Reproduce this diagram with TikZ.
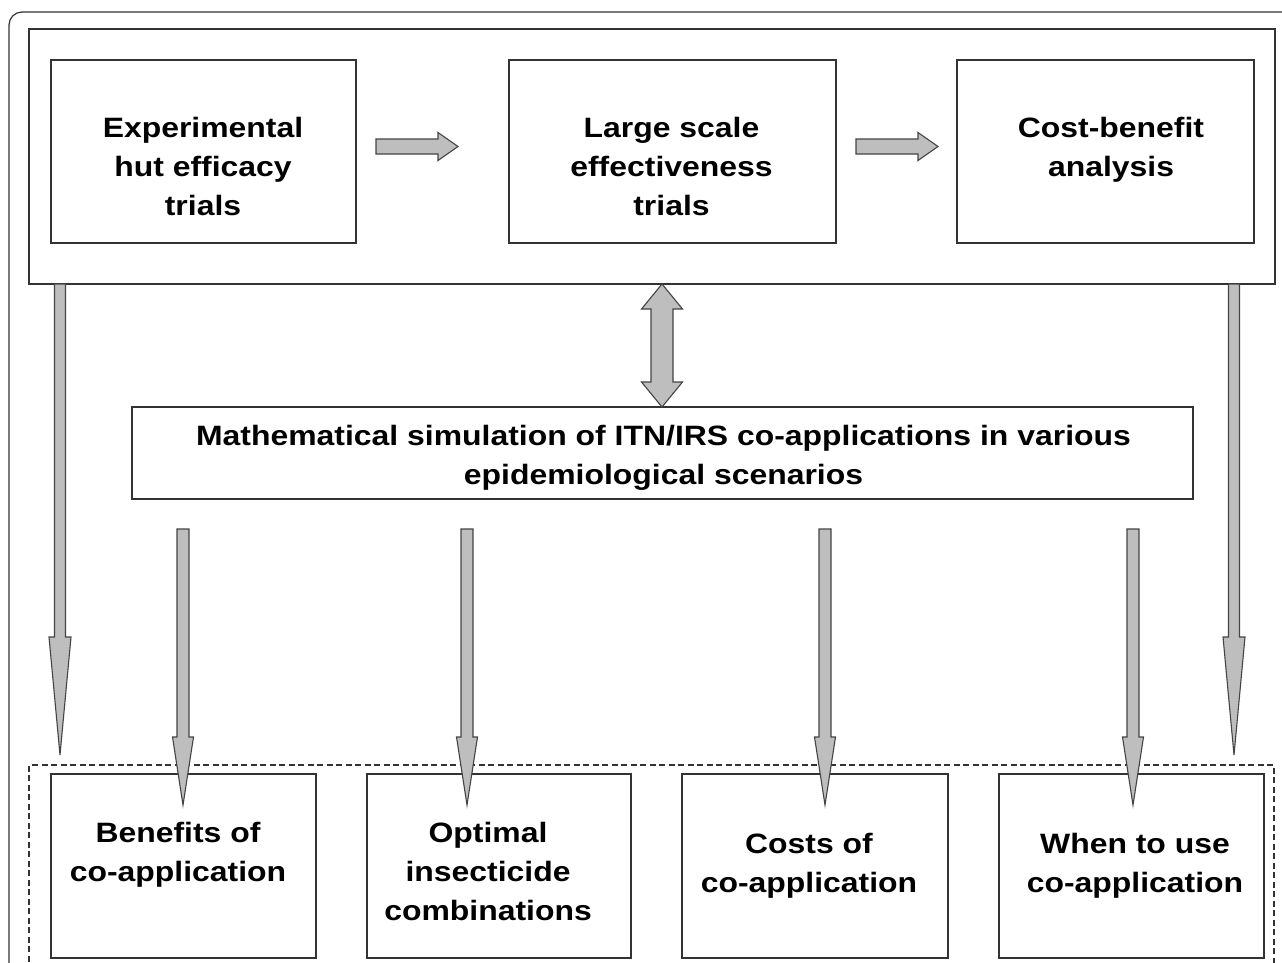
\documentclass[tikz,border=0pt]{standalone}
\usepackage{fontspec}
\setmainfont{Liberation Sans}[FakeStretch=1.14]
\usetikzlibrary{calc}
\definecolor{boxc}{HTML}{333333}
\definecolor{arrfill}{HTML}{BEBEBE}
\definecolor{arrline}{HTML}{444444}
\newcommand\fatdown[5]{%
  \draw[fatarrow] let \p1=(#1), \p2=(#2) in
   (\x1-#3pt,\y1) -- (\x1-#3pt,\y2+#5pt) -- (\x1-#4pt,\y2+#5pt) -- (\x2,\y2)
   -- (\x1+#4pt,\y2+#5pt) -- (\x1+#3pt,\y2+#5pt) -- (\x1+#3pt,\y1) -- cycle;}
\newcommand\fatright[5]{%
  \draw[fatarrow] let \p1=(#1), \p2=(#2) in
   (\x1,\y1-#3pt) -- (\x2-#5pt,\y1-#3pt) -- (\x2-#5pt,\y1-#4pt) -- (\x2,\y2)
   -- (\x2-#5pt,\y1+#4pt) -- (\x2-#5pt,\y1+#3pt) -- (\x1,\y1+#3pt) -- cycle;}
\newcommand\fatboth[5]{%
  \draw[fatarrow] let \p1=(#1), \p2=(#2) in
   (\x1,\y1) -- (\x1-#4pt,\y1-#5pt) -- (\x1-#3pt,\y1-#5pt) -- (\x1-#3pt,\y2+#5pt)
   -- (\x1-#4pt,\y2+#5pt) -- (\x2,\y2) -- (\x1+#4pt,\y2+#5pt) -- (\x1+#3pt,\y2+#5pt)
   -- (\x1+#3pt,\y1-#5pt) -- (\x1+#4pt,\y1-#5pt) -- cycle;}
\begin{document}
\begin{tikzpicture}[x=1pt,y=-1pt,
  box/.style={draw=boxc, line width=1.3pt, anchor=north west, inner sep=0pt, outer sep=0pt},
  txt/.style={font=\bfseries\fontsize{28}{39}\selectfont, align=center, inner sep=0pt, anchor=north, text=black},
  fatarrow/.style={fill=arrfill, draw=arrline, line width=1.1pt, line join=miter},
  frame/.style={draw=boxc, line width=1.2pt}]
\useasboundingbox (0,0) rectangle (1282,962);
\clip (0,0) rectangle (1282,962);
\fill[white] (0,0) rectangle (1282,962);
% outer frame
\draw[frame, rounded corners=13pt] (9,990) -- (9,12) -- (1300,12);
% top group
\node[box, minimum width=1246pt, minimum height=255pt] (top) at (29,29) {};
\node[box, minimum width=305pt, minimum height=183pt] (t1) at (51,60) {};
\node[box, minimum width=327pt, minimum height=183pt] (t2) at (509,60) {};
\node[box, minimum width=297pt, minimum height=183pt] (t3) at (957,60) {};
\node[txt] (t1txt) at (203,117) {Experimental\\hut efficacy\\trials};
\node[txt] (t2txt) at (671.5,117) {Large scale\\effectiveness\\trials};
\node[txt] (t3txt) at (1111,117) {Cost-benefit\\analysis};
% middle
\node[box, minimum width=1061pt, minimum height=92pt] (mid) at (132,407) {};
\node[txt] (midtxt) at (663.5,425) {Mathematical simulation of ITN/IRS co-applications in various\\epidemiological scenarios};
% bottom group
\draw[draw=boxc, line width=1.1pt, dash pattern=on 6pt off 3.5pt] (29,990) -- (29,765) -- (1274,765) -- (1274,990);
\node[box, minimum width=265pt, minimum height=184pt] (b1) at (51,774) {};
\node[box, minimum width=264pt, minimum height=184pt] (b2) at (367,774) {};
\node[box, minimum width=266pt, minimum height=184pt] (b3) at (682,774) {};
\node[box, minimum width=265pt, minimum height=184pt] (b4) at (999,774) {};
\node[txt] (b1txt) at (178,822) {Benefits of\\co-application};
\node[txt] (b2txt) at (488,822) {Optimal\\insecticide\\combinations};
\node[txt] (b3txt) at (809,833) {Costs of\\co-application};
\node[txt] (b4txt) at (1135,833) {When to use\\co-application};
% arrow coordinates
\coordinate (h1s) at (376,146.5); \coordinate (h1t) at (458,146.5);
\coordinate (h2s) at (856,146.5); \coordinate (h2t) at (938,146.5);
\coordinate (dbl) at (662,0);
\coordinate (l1t) at (60,755);
\coordinate (l2t) at (1234,755);
\coordinate (s1s) at (183,529); \coordinate (s1t) at (183,805);
\coordinate (s2s) at (467,529); \coordinate (s2t) at (467,805);
\coordinate (s3s) at (825,529); \coordinate (s3t) at (825,805);
\coordinate (s4s) at (1133,529); \coordinate (s4t) at (1133,805);
% arrows
\fatright{h1s}{h1t}{7.5}{14}{20}
\fatright{h2s}{h2t}{7.5}{14}{20}
\fatboth{top.south -| dbl}{mid.north -| dbl}{11}{20.5}{25}
\fatdown{top.south -| l1t}{l1t}{5.5}{11}{118}
\fatdown{top.south -| l2t}{l2t}{5.5}{11}{118}
\fatdown{s1s}{s1t}{6}{10.5}{68}
\fatdown{s2s}{s2t}{6}{10.5}{68}
\fatdown{s3s}{s3t}{6}{10.5}{68}
\fatdown{s4s}{s4t}{6}{10.5}{68}
\end{tikzpicture}
\end{document}
